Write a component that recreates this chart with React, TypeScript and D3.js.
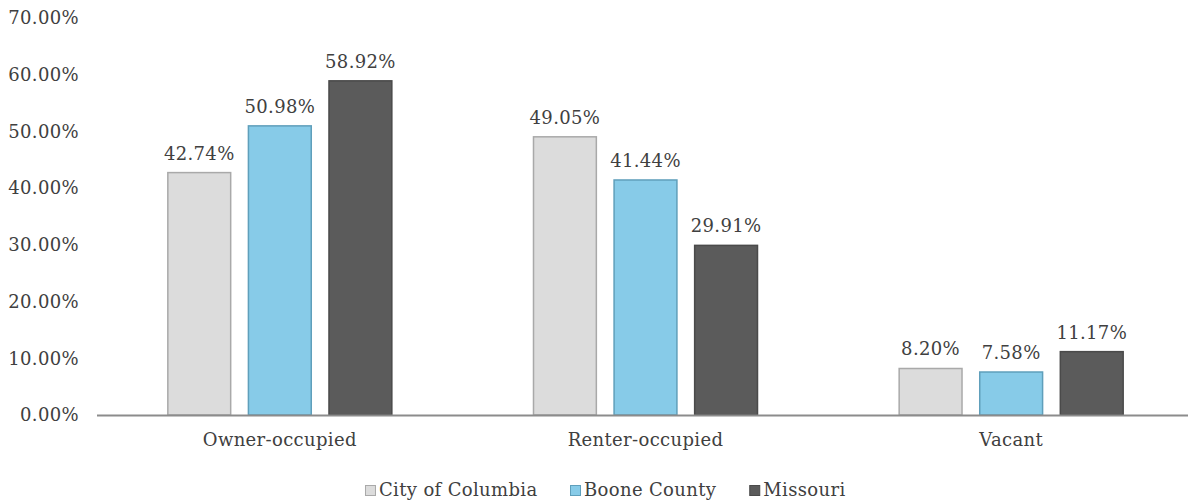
import { useEffect, useRef } from 'react'
import * as d3 from 'd3'

const categories = ['Owner-occupied', 'Renter-occupied', 'Vacant']
const seriesNames = ['City of Columbia', 'Boone County', 'Missouri']
const cityValues = [42.74, 49.05, 8.2]
const booneValues = [50.98, 41.44, 7.58]
const missouriValues = [58.92, 29.91, 11.17]
const yTicks = [0, 10, 20, 30, 40, 50, 60, 70]

const fills = ['#dcdcdc', '#87cbe8', '#5b5b5b']
const strokes = ['#a9a9a9', '#5f9fbb', '#4a4a4a']

export default function App() {
  const ref = useRef<SVGSVGElement>(null)

  useEffect(() => {
    if (!ref.current) return
    const width = 1188, height = 501
    const margin = { top: 18, bottom: 85, left: 97 }
    const font = "'DejaVu Serif', serif"
    const textColor = '#404040'
    const fontSize = '18px'
    const spacing = '0.35px'

    const svg = d3.select(ref.current)
    svg.selectAll('*').remove()

    const x = d3.scaleBand<string>()
      .domain(categories)
      .range([margin.left, 1194])

    const inner = d3.scaleBand<string>()
      .domain(seriesNames)
      .range([-112, 112])
      .paddingInner(0.22)

    const y = d3.scaleLinear()
      .domain([0, 70])
      .range([height - margin.bottom - 1, margin.top])

    const styleText = (sel: any) => sel
      .attr('fill', textColor)
      .style('font-family', font)
      .style('font-size', fontSize)
      .style('letter-spacing', spacing)

    // y tick labels
    svg.append('g')
      .selectAll('text')
      .data(yTicks)
      .join('text')
      .attr('x', 79)
      .attr('y', d => y(d))
      .attr('dy', '0.35em')
      .attr('text-anchor', 'end')
      .call(styleText)
      .text(d => d3.format('.2f')(d) + '%')

    const series = [cityValues, booneValues, missouriValues]

    series.forEach((vals, si) => {
      const g = svg.append('g')
      const bx = (i: number) => x(categories[i])! + x.bandwidth() / 2 + inner(seriesNames[si])!
      g.selectAll('rect')
        .data(vals)
        .join('rect')
        .attr('x', (d, i) => bx(i))
        .attr('y', d => y(d))
        .attr('width', inner.bandwidth())
        .attr('height', d => y(0) - y(d))
        .attr('fill', fills[si])
        .attr('stroke', strokes[si])
        .attr('stroke-width', 1.5)

      g.selectAll('text')
        .data(vals)
        .join('text')
        .attr('x', (d, i) => bx(i) + inner.bandwidth() / 2)
        .attr('y', d => y(d) - 13)
        .attr('text-anchor', 'middle')
        .call(styleText)
        .text(d => d3.format('.2f')(d) + '%')
    })

    // axis line
    svg.append('line')
      .attr('x1', margin.left)
      .attr('x2', width)
      .attr('y1', y(0) + 0.5)
      .attr('y2', y(0) + 0.5)
      .attr('stroke', '#8c8c8c')
      .attr('stroke-width', 2)

    // category labels
    svg.append('g')
      .selectAll('text')
      .data(categories)
      .join('text')
      .attr('x', d => x(d)! + x.bandwidth() / 2)
      .attr('y', y(0) + 31)
      .attr('text-anchor', 'middle')
      .call(styleText)
      .text(d => d)

    // legend
    const legend = svg.append('g')
    const items = legend.selectAll('g')
      .data(seriesNames)
      .join('g')
    items.append('rect')
      .attr('x', 0.5)
      .attr('y', -10.5)
      .attr('width', 10)
      .attr('height', 10)
      .attr('fill', (d, i) => fills[i])
      .attr('stroke', (d, i) => strokes[i])
    items.append('text')
      .attr('x', 14)
      .call(styleText)
      .text(d => d)

    const widths: number[] = []
    items.each(function () {
      widths.push((this as SVGGElement).getBBox().width)
    })
    const gap = 33
    const total = d3.sum(widths) + gap * (widths.length - 1)
    const start = (width - total) / 2 + 11
    let offset = 0
    items.attr('transform', (d, i) => {
      const t = `translate(${start + offset},496)`
      offset += widths[i] + gap
      return t
    })
  }, [])

  return (
    <svg ref={ref} width={1188} height={501} style={{ position: 'absolute', left: 0, top: 0 }} />
  )
}
